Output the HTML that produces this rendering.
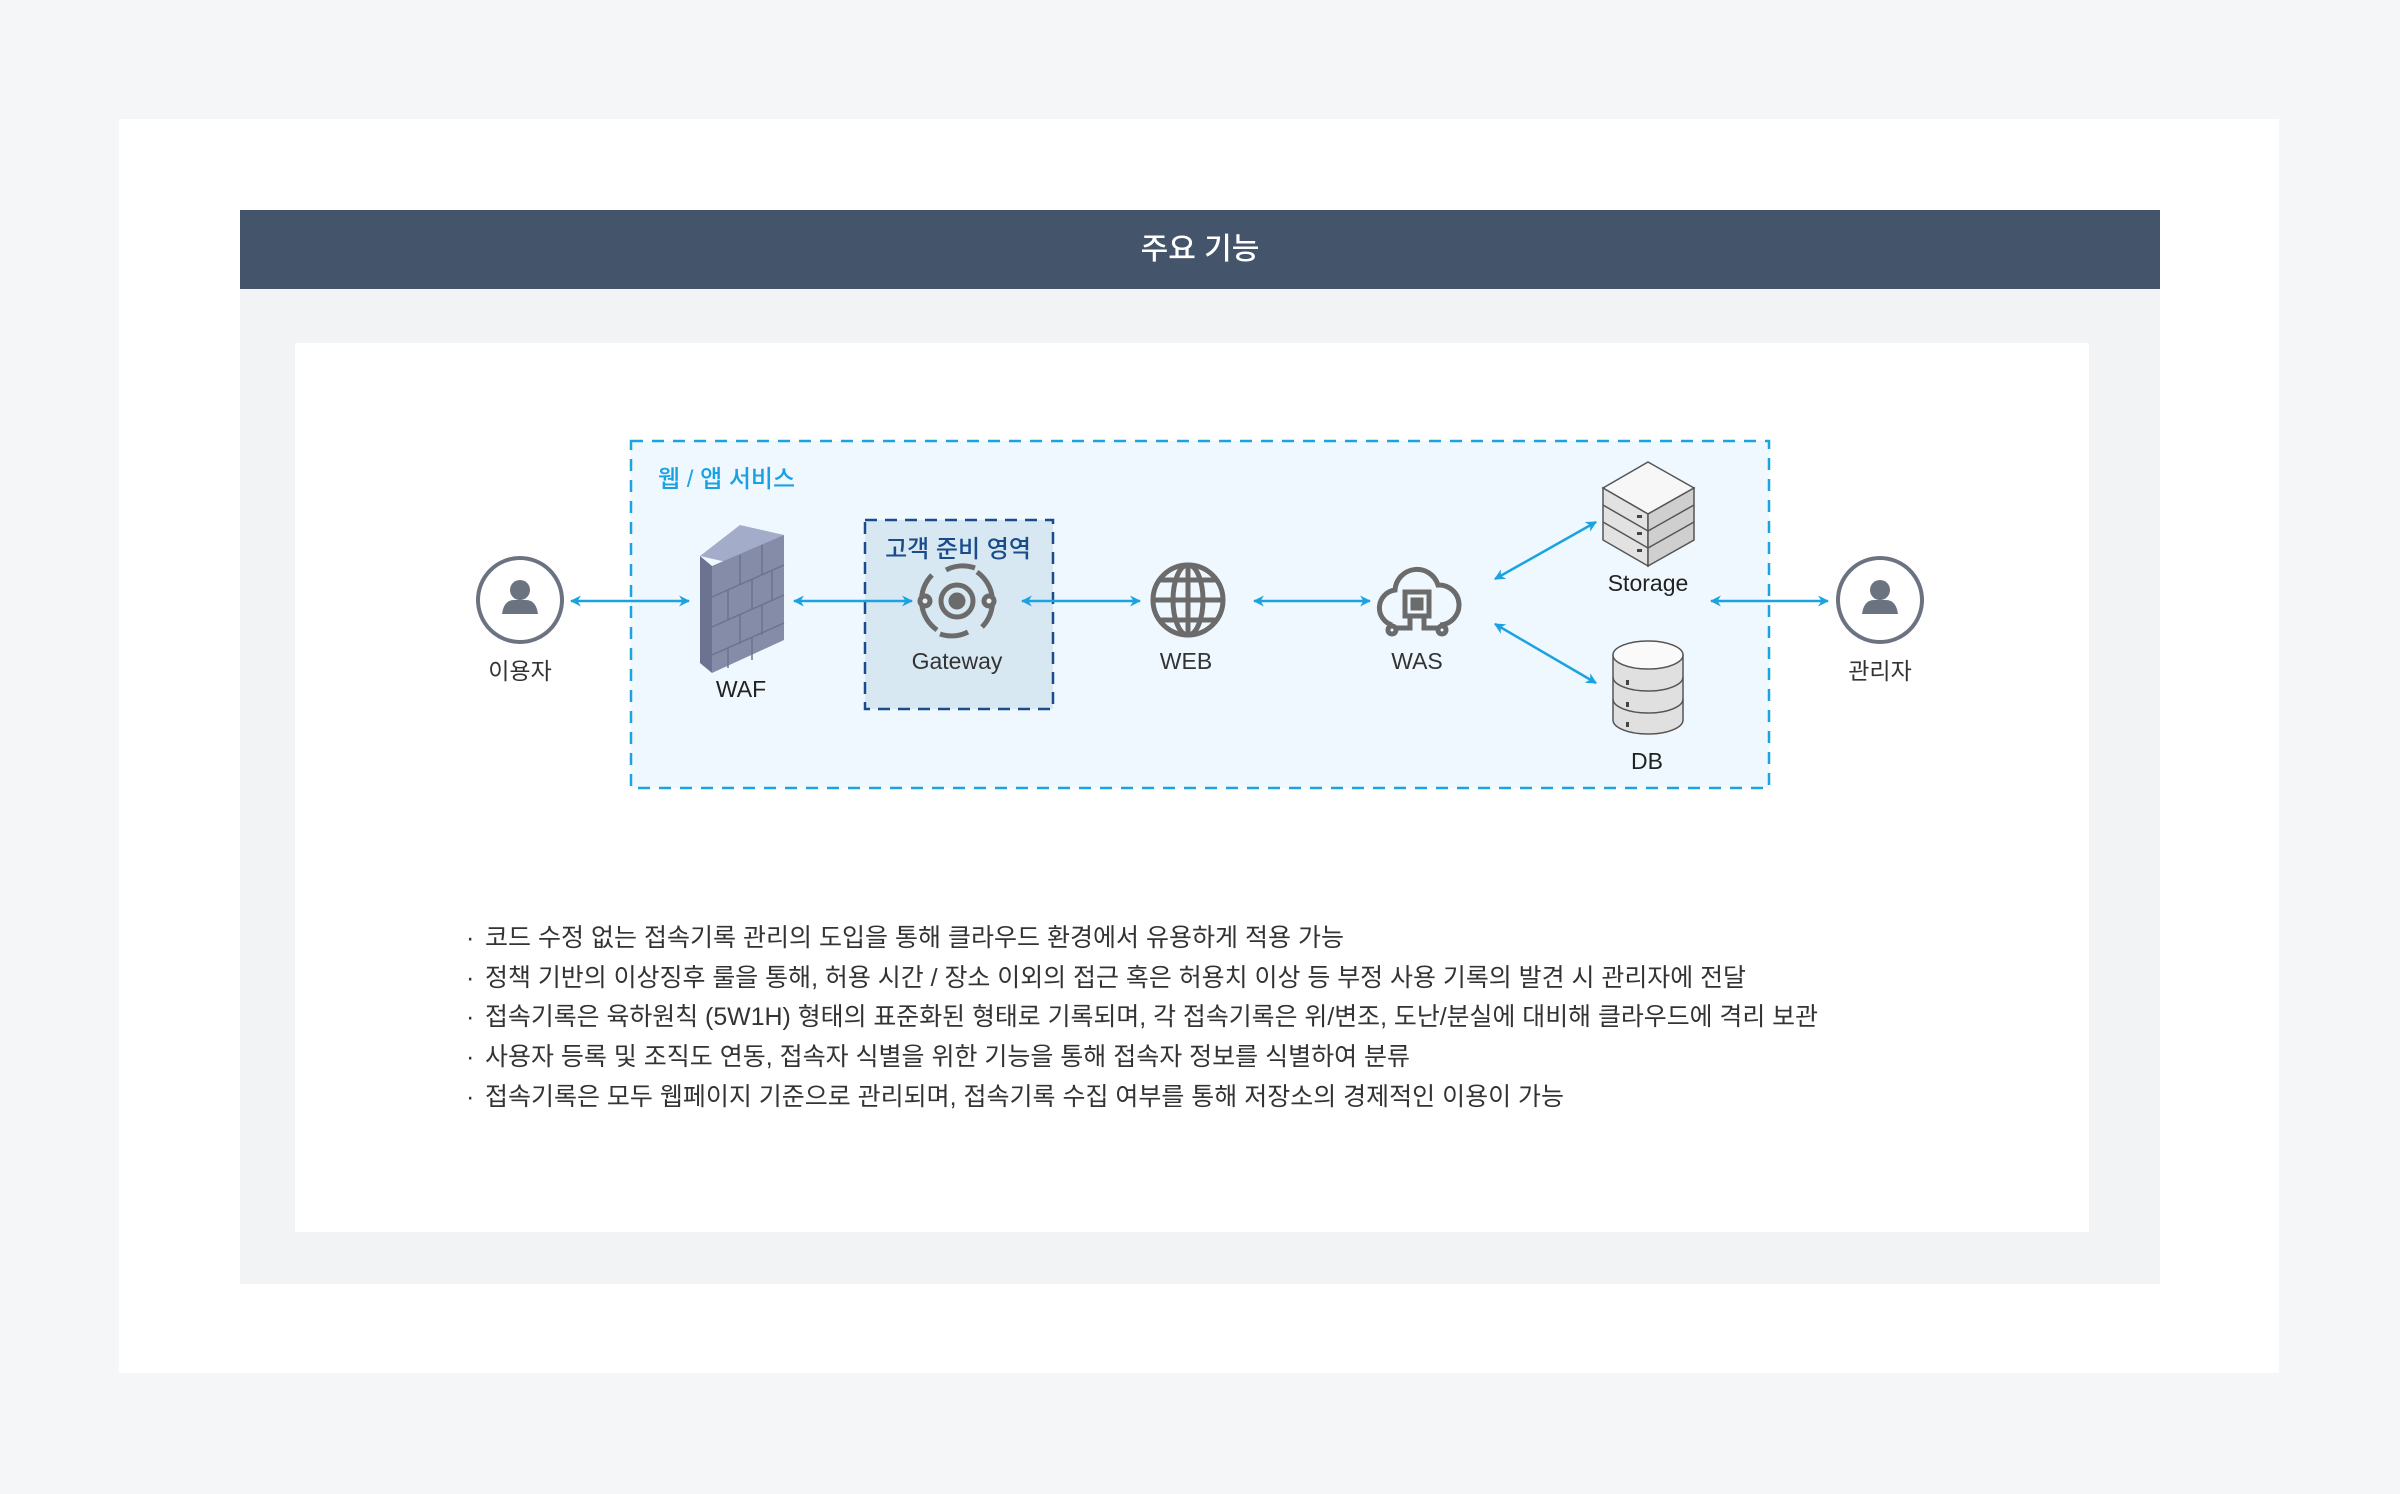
<!DOCTYPE html>
<html><head><meta charset="utf-8"><style>
html,body{margin:0;padding:0;background:#f5f6f8}
svg{display:block}
text{font-family:"Liberation Sans","Noto Sans CJK KR",sans-serif}
</style></head><body>
<svg width="2400" height="1494" viewBox="0 0 2400 1494" xmlns="http://www.w3.org/2000/svg">
<defs>
<marker id="ah" viewBox="0 0 10 10" refX="9" refY="5" markerWidth="11" markerHeight="11" orient="auto-start-reverse" markerUnits="userSpaceOnUse"><path d="M0,0 L10,5 L0,10 L3,5 Z" fill="#1aa3e0"/></marker>
</defs>
<rect width="2400" height="1494" fill="#f5f6f8"/>
<rect x="119" y="119" width="2160" height="1254" fill="#fff"/>
<rect x="240" y="289" width="1920" height="995" fill="#f2f3f5"/>
<rect x="240" y="210" width="1920" height="79" fill="#44546a"/>
<text x="1200" y="259" font-size="30" fill="#fff" text-anchor="middle" font-weight="500">주요 기능</text>
<rect x="295" y="343" width="1794" height="889" fill="#fff"/>

<rect x="631" y="441" width="1138" height="347" fill="#eff8fe" stroke="#1aa3e0" stroke-width="2.5" stroke-dasharray="12,9"/>
<text x="658" y="487" font-size="24" fill="#1ba1e2" font-weight="500">웹 / 앱 서비스</text>
<rect x="865" y="520" width="188" height="189" fill="#d8e8f2" stroke="#1a4c8c" stroke-width="2.5" stroke-dasharray="12,8"/>
<text x="958" y="557" font-size="24" fill="#1a4c8c" text-anchor="middle" font-weight="500">고객 준비 영역</text>

<g stroke="#1aa3e0" stroke-width="2.5" fill="none" marker-start="url(#ah)" marker-end="url(#ah)">
<line x1="571" y1="601" x2="689" y2="601"/>
<line x1="794" y1="601" x2="912" y2="601"/>
<line x1="1022" y1="601" x2="1140" y2="601"/>
<line x1="1254" y1="601" x2="1370" y2="601"/>
<line x1="1711" y1="601" x2="1828" y2="601"/>
<line x1="1495" y1="579" x2="1596" y2="522"/>
<line x1="1495" y1="624" x2="1596" y2="683"/>
</g>

<g>
<circle cx="520" cy="600" r="42" fill="#fff" stroke="#6b7280" stroke-width="4"/>
<circle cx="520" cy="590" r="10" fill="#6b7280"/>
<path d="M502,614 Q504,600 514,600 L526,600 Q536,600 538,614 Z" fill="#6b7280"/>
<text x="520" y="679" font-size="23" fill="#333" text-anchor="middle">이용자</text>
<circle cx="1880" cy="600" r="42" fill="#fff" stroke="#6b7280" stroke-width="4"/>
<circle cx="1880" cy="590" r="10" fill="#6b7280"/>
<path d="M1862,614 Q1864,600 1874,600 L1886,600 Q1896,600 1898,614 Z" fill="#6b7280"/>
<text x="1880" y="679" font-size="23" fill="#333" text-anchor="middle">관리자</text>
</g>

<g>
<polygon points="700,556 740,525 784,535 744,566" fill="#a3acc8"/>
<polygon points="700,556 712,566 712,673 700,663" fill="#6b7390"/>
<polygon points="712,566 784,535 784,640 712,673" fill="#848ca8"/>
<g stroke="#6b7390" stroke-width="1.5">
<line x1="712" y1="597" x2="784" y2="565"/><line x1="712" y1="627" x2="784" y2="595"/><line x1="712" y1="655" x2="784" y2="623"/>
<line x1="740" y1="555" x2="740" y2="585"/><line x1="762" y1="545" x2="762" y2="575"/>
<line x1="728" y1="590" x2="728" y2="620"/><line x1="752" y1="580" x2="752" y2="610"/><line x1="772" y1="570" x2="772" y2="600"/>
<line x1="740" y1="614" x2="740" y2="644"/><line x1="762" y1="605" x2="762" y2="635"/>
<line x1="728" y1="648" x2="728" y2="668"/><line x1="752" y1="638" x2="752" y2="660"/>
</g>
<text x="741" y="697" font-size="23" fill="#222" text-anchor="middle" font-weight="500">WAF</text>
</g>

<g stroke="#6b6b6b" fill="none" stroke-width="5">
<circle cx="957" cy="601" r="16"/>
<circle cx="957" cy="601" r="6" fill="#6b6b6b"/>
<path d="M937,630 A36,36 0 0,1 932,575"/>
<path d="M977,572 A36,36 0 0,1 982,627"/>
<path d="M946,570 A36,36 0 0,1 975,568"/>
<path d="M968,632 A36,36 0 0,1 940,634"/>
<circle cx="925" cy="601" r="5" fill="#eee"/><circle cx="989" cy="601" r="5" fill="#eee"/>
</g>
<text x="957" y="669" font-size="23" fill="#333" text-anchor="middle" font-weight="500">Gateway</text>

<g stroke="#6b6b6b" fill="none" stroke-width="5">
<circle cx="1188" cy="600" r="35"/>
<ellipse cx="1188" cy="600" rx="15" ry="35"/>
<line x1="1188" y1="565" x2="1188" y2="635"/>
<line x1="1153" y1="600" x2="1223" y2="600"/>
<path d="M1160,580 H1216 M1160,620 H1216"/>
</g>
<text x="1186" y="669" font-size="23" fill="#333" text-anchor="middle" font-weight="500">WEB</text>

<g stroke="#6b6b6b" fill="none" stroke-width="5">
<path d="M1392,625 A18,18 0 0,1 1395,590 A22,22 0 0,1 1438,585 A16,16 0 0,1 1440,625"/>
<rect x="1405" y="592" width="24" height="24"/>
<rect x="1413" y="600" width="8" height="8" fill="#6b6b6b"/>
<path d="M1410,616 V628 H1396 M1424,616 V628 H1438"/>
<circle cx="1392" cy="630" r="4"/><circle cx="1442" cy="630" r="4"/>
</g>
<text x="1417" y="669" font-size="23" fill="#333" text-anchor="middle" font-weight="500">WAS</text>

<g stroke="#555" stroke-width="1.5">
<polygon points="1603,488 1648,462 1694,488 1648,514" fill="#f7f7f7"/>
<polygon points="1603,488 1648,514 1648,566 1603,540" fill="#e2e2e2"/>
<polygon points="1648,514 1694,488 1694,540 1648,566" fill="#cfcfcf"/>
<line x1="1603" y1="505" x2="1648" y2="531"/><line x1="1603" y1="522" x2="1648" y2="548"/>
<line x1="1648" y1="531" x2="1694" y2="505"/><line x1="1648" y1="548" x2="1694" y2="522"/>
</g>
<g fill="#444"><rect x="1637" y="515" width="5" height="3"/><rect x="1637" y="532" width="5" height="3"/><rect x="1637" y="549" width="5" height="3"/></g>
<text x="1648" y="591" font-size="23" fill="#222" text-anchor="middle" font-weight="500">Storage</text>

<g stroke="#555" stroke-width="1.5">
<path d="M1613,655 V720 A35,14 0 0,0 1683,720 V655" fill="#e0e0e0"/>
<path d="M1613,677 A35,14 0 0,0 1683,677 M1613,699 A35,14 0 0,0 1683,699" fill="none"/>
<ellipse cx="1648" cy="655" rx="35" ry="14" fill="#fafafa"/>
</g>
<g fill="#444"><rect x="1626" y="680" width="3" height="5"/><rect x="1626" y="702" width="3" height="5"/><rect x="1626" y="722" width="3" height="5"/></g>
<text x="1647" y="769" font-size="23" fill="#222" text-anchor="middle" font-weight="500">DB</text>

<g font-size="25" fill="#333">
<text x="466" y="946">·</text><text x="485" y="946" textLength="859" lengthAdjust="spacingAndGlyphs">코드 수정 없는 접속기록 관리의 도입을 통해 클라우드 환경에서 유용하게 적용 가능</text>
<text x="466" y="986">·</text><text x="485" y="986" textLength="1261" lengthAdjust="spacingAndGlyphs">정책 기반의 이상징후 룰을 통해, 허용 시간 / 장소 이외의 접근 혹은 허용치 이상 등 부정 사용 기록의 발견 시 관리자에 전달</text>
<text x="466" y="1025">·</text><text x="485" y="1025" textLength="1333" lengthAdjust="spacingAndGlyphs">접속기록은 육하원칙 (5W1H) 형태의 표준화된 형태로 기록되며, 각 접속기록은 위/변조, 도난/분실에 대비해 클라우드에 격리 보관</text>
<text x="466" y="1065">·</text><text x="485" y="1065" textLength="925" lengthAdjust="spacingAndGlyphs">사용자 등록 및 조직도 연동, 접속자 식별을 위한 기능을 통해 접속자 정보를 식별하여 분류</text>
<text x="466" y="1105">·</text><text x="485" y="1105" textLength="1079" lengthAdjust="spacingAndGlyphs">접속기록은 모두 웹페이지 기준으로 관리되며, 접속기록 수집 여부를 통해 저장소의 경제적인 이용이 가능</text>
</g>
</svg>
</body></html>
